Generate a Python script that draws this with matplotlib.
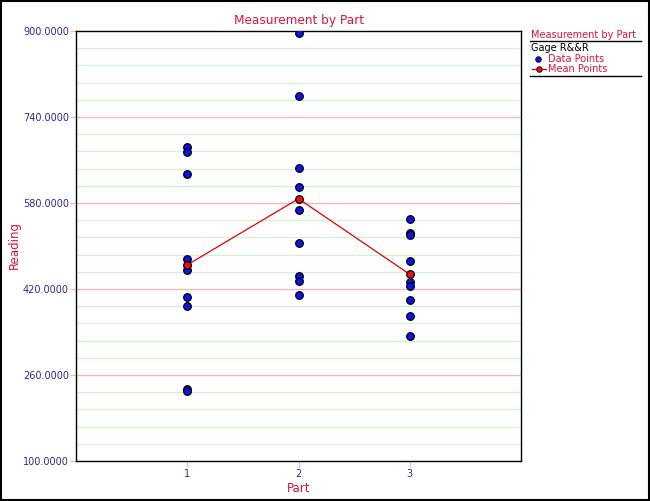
import numpy as np
import matplotlib
matplotlib.use('Agg')
import matplotlib.pyplot as plt
from matplotlib.lines import Line2D

# readings per part (3 operators x 3 trials)
parts = [1, 2, 3]
part1 = [684.7, 674.3, 634.5, 475.8, 455.3, 405.7, 389.0, 233.4, 231.0]
part2 = [895.7, 779.7, 645.7, 609.8, 567.0, 506.2, 444.2, 435.0, 408.2]
part3 = [550.2, 524.0, 520.0, 471.5, 433.6, 425.6, 399.5, 369.2, 332.0]
readings = [part1, part2, part3]
means = [np.mean(r) for r in readings]

y_ticks = [100, 260, 420, 580, 740, 900]

red = '#DC143C'
navy = '#2B2B8C'

plt.rcParams['font.family'] = ['DejaVu Sans']
fig = plt.figure(figsize=(6.5, 5.01), dpi=100)
ax = fig.add_axes([76 / 650, 40 / 501, 445 / 650, 430 / 501])

# grid: light green every 32, pink at the labelled values
for v in np.arange(100, 901, 32):
    if v in y_ticks:
        continue
    ax.axhline(v, color='#CCF5CC', lw=0.9, zorder=0)
for v in y_ticks[1:-1]:
    ax.axhline(v, color='#F7B4B4', lw=0.9, zorder=0)

# data points and means
for p, r in zip(parts, readings):
    ax.scatter([p] * len(r), r, s=30, c='#0A14F0', edgecolors='black',
               linewidths=0.9, zorder=3)
ax.plot(parts, means, color='#E00000', lw=0.9, zorder=2)
ax.scatter(parts, means, s=30, c='#F01010', edgecolors='black',
           linewidths=0.9, zorder=4)

ax.set_xlim(0, 4)
ax.set_ylim(100, 900)
ax.set_xticks(parts)
ax.set_yticks(y_ticks)
ax.set_yticklabels(['%.4f' % v for v in y_ticks])
ax.tick_params(axis='x', colors='#F7B4B4', labelcolor=navy, labelsize=7,
               length=4, width=0.8, pad=2)
ax.tick_params(axis='y', colors='#F7B4B4', labelcolor=navy, labelsize=7,
               length=4, width=0.8, pad=1)
for s in ax.spines.values():
    s.set_color('black')
    s.set_linewidth(1.0)

ax.set_title('Measurement by Part', color=red, fontsize=8.7, pad=5)
ax.set_xlabel('Part', color=red, fontsize=8.5)
ax.set_ylabel('Reading', color=red, fontsize=8.5)
ax.xaxis.set_label_coords(0.5, (461 - 488) / 430)
ax.yaxis.set_label_coords((14 - 76) / 445, (461 - 245) / 430)
ax.xaxis.label.set_va('center')
ax.yaxis.label.set_va('center')

# legend drawn by hand at the right
fs = 7.0
fig.text(531 / 650, 1 - 35 / 501, 'Measurement by Part', color=red,
         fontsize=fs, va='center')
fig.add_artist(Line2D([530 / 650, 641 / 650], [1 - 41 / 501] * 2,
                      color='black', lw=1.0))
fig.text(531 / 650, 1 - 48 / 501, 'Gage R&&R', color='black',
         fontsize=fs, va='center')
fig.add_artist(Line2D([538 / 650], [1 - 59 / 501], marker='o', ms=4,
                      mfc='#0A14F0', mec='black', mew=0.6, ls='none'))
fig.text(548 / 650, 1 - 59 / 501, 'Data Points', color=red,
         fontsize=fs, va='center')
fig.add_artist(Line2D([532 / 650, 546 / 650], [1 - 69 / 501] * 2,
                      color='#E00000', lw=0.9, marker=None))
fig.add_artist(Line2D([539 / 650], [1 - 69 / 501], marker='o', ms=4,
                      mfc='#F01010', mec='black', mew=0.6, ls='none'))
fig.text(548 / 650, 1 - 69 / 501, 'Mean Points', color=red,
         fontsize=fs, va='center')
fig.add_artist(Line2D([530 / 650, 641 / 650], [1 - 76 / 501] * 2,
                      color='black', lw=1.0))

# outer frame
fig.add_artist(plt.Rectangle((0.001, 0.001), 0.997, 0.997, fill=False,
                             edgecolor='black', lw=1.5,
                             transform=fig.transFigure))

fig.savefig('out.png', dpi=100)
